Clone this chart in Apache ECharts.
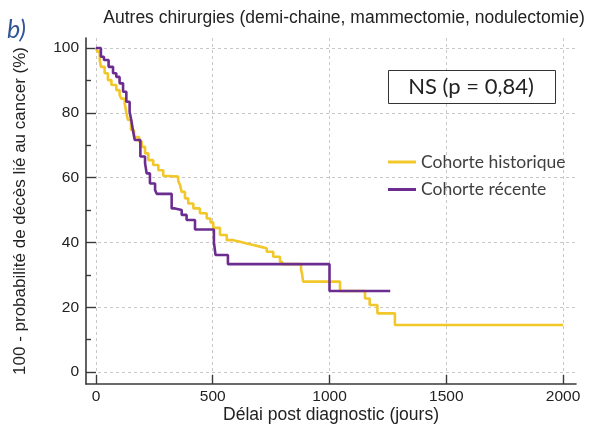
<!DOCTYPE html>
<html>
<head>
<meta charset="utf-8">
<script src="https://cdn.jsdelivr.net/npm/echarts@6/dist/echarts.min.js"></script>
<style>html,body{margin:0;padding:0;background:#fff}#c{width:594px;height:432px}</style>
</head>
<body>
<div id="c"></div>
<script>
// Cohorte historique (Kaplan-Meier steps: day, survival %)
const histDays = [0, 6, 16, 21, 37, 51, 66, 87, 101, 108, 123, 130, 137, 150, 163, 185, 196, 210, 224, 245, 267, 288, 310, 352, 360, 367, 381, 395, 417, 445, 474, 490, 502, 531, 560, 588, 617, 645, 674, 702, 731, 759, 788, 797, 878, 882, 887, 1045, 1152, 1172, 1205, 1280, 2000];
const histSurv = [100, 98.9, 96.3, 94.2, 92.2, 90.1, 88.6, 87.0, 85.5, 84.4, 82.9, 80.0, 77.8, 74.7, 72.5, 71.1, 69.5, 67.5, 65.4, 63.9, 62.3, 60.5, 60.3, 59.0, 57.7, 55.6, 53.6, 52.0, 50.5, 49.0, 47.4, 46.2, 44.5, 42.3, 40.7, 40.2, 39.7, 39.2, 38.7, 38.2, 37.1, 35.6, 34.0, 33.3, 31.5, 30.5, 27.9, 25.0, 22.7, 20.7, 18.1, 14.5, 14.5];
// Cohorte récente
const recDays = [0, 21, 34, 54, 73, 87, 101, 116, 130, 144, 151, 158, 166, 190, 210, 217, 231, 253, 260, 324, 338, 367, 388, 424, 505, 512, 565, 1000, 1260];
const recSurv = [100, 97.3, 96.3, 94.2, 92.2, 91.1, 89.1, 86.5, 83.4, 80.3, 77.8, 74.7, 71.6, 66.5, 64.5, 61.3, 58.2, 56.2, 55.0, 50.5, 50.0, 48.5, 46.9, 44.0, 40.0, 36.1, 33.3, 25.0, 25.0];
// Axes
const xTicks = [0, 500, 1000, 1500, 2000];
const yTicks = [0, 20, 40, 60, 80, 100];
const yMinorTicks = [10, 30, 50, 70, 90];
const seriesNames = ['Cohorte historique', 'Cohorte récente'];
const titleText = 'Autres chirurgies (demi-chaine, mammectomie, nodulectomie)';
const panelText = 'b)';
const statText = 'NS (p = 0,84)';

const zip = (a, b) => a.map((v, i) => [v, b[i]]);
const chart = echarts.init(document.getElementById('c'), null, {renderer: 'canvas'});
const axisCol = '#3a3a3a';
const gridLine = {show: true, lineStyle: {color: '#c8c8c8', type: [3, 3], width: 1}};
const sans = 'Liberation Sans, Arial, sans-serif';
const plain = v => String(v);
chart.setOption({
  animation: false,
  backgroundColor: '#fff',
  grid: {left: 86, top: 38, width: 490, height: 346, containLabel: false},
  xAxis: {
    type: 'value', min: -42.8, max: 2055.6,
    name: 'Délai post diagnostic (jours)', nameLocation: 'middle', nameGap: 22, nameMoveOverlap: false,
    nameTextStyle: {fontFamily: sans, fontSize: 17.5, color: '#222'},
    axisLine: {show: true, onZero: false, lineStyle: {color: axisCol, width: 1.6}},
    axisTick: {show: true, inside: true, length: 9, customValues: xTicks, lineStyle: {color: axisCol, width: 1.4}},
    axisLabel: {customValues: xTicks, formatter: plain, fontFamily: sans, fontSize: 15.5, color: '#222', margin: 5},
    splitLine: gridLine
  },
  yAxis: [{
    type: 'value', min: -3.7, max: 103.1,
    name: '100 - probabilité de décès lié au cancer (%)', nameLocation: 'middle', nameGap: 57,
    nameTextStyle: {fontFamily: sans, fontSize: 17, color: '#222'},
    axisLine: {show: true, onZero: false, lineStyle: {color: axisCol, width: 1.6}},
    axisTick: {show: true, inside: true, length: 10, customValues: yTicks, lineStyle: {color: axisCol, width: 1.4}},
    axisLabel: {customValues: yTicks, formatter: plain, fontFamily: sans, fontSize: 15.5, color: '#222', margin: 7},
    splitLine: gridLine
  }, {
    type: 'value', min: -3.7, max: 103.1, position: 'left',
    axisLine: {show: false, onZero: false},
    axisTick: {show: true, inside: true, length: 5, customValues: yMinorTicks, lineStyle: {color: axisCol, width: 1.4}},
    axisLabel: {show: false},
    splitLine: {show: false}
  }],
  legend: {
    orient: 'vertical', left: 388, top: 153, padding: 0, itemWidth: 28, itemHeight: 3, itemGap: 9.5,
    icon: 'rect', data: seriesNames,
    textStyle: {fontFamily: 'Lato, Open Sans, sans-serif', fontSize: 17.5, lineHeight: 17.5, color: '#404040'}
  },
  series: [{
    name: seriesNames[0], type: 'line', step: 'end', showSymbol: false,
    lineStyle: {color: '#F2C72A', width: 2.6}, itemStyle: {color: '#F2C72A'},
    data: zip(histDays, histSurv)
  }, {
    name: seriesNames[1], type: 'line', step: 'end', showSymbol: false,
    lineStyle: {color: '#6B2D90', width: 2.6}, itemStyle: {color: '#6B2D90'},
    data: zip(recDays, recSurv)
  }],
  graphic: [
    {type: 'text', left: 7, top: 17, style: {text: panelText, font: 'italic 25px Lato, Open Sans, sans-serif', fill: '#2F5597'}},
    {type: 'text', x: 344, y: 18, style: {text: titleText, font: '17.5px Liberation Sans, Arial, sans-serif', fill: '#222', textAlign: 'center', textVerticalAlign: 'middle'}},
    {type: 'rect', shape: {x: 388.5, y: 70.5, width: 167, height: 33}, style: {fill: '#fff', stroke: '#333', lineWidth: 1}, z: 10},
    {type: 'text', x: 471, y: 87, style: {text: statText, font: '22px Lato, Open Sans, sans-serif', fill: '#222', textAlign: 'center', textVerticalAlign: 'middle'}, z: 11}
  ]
});
</script>
</body>
</html>
